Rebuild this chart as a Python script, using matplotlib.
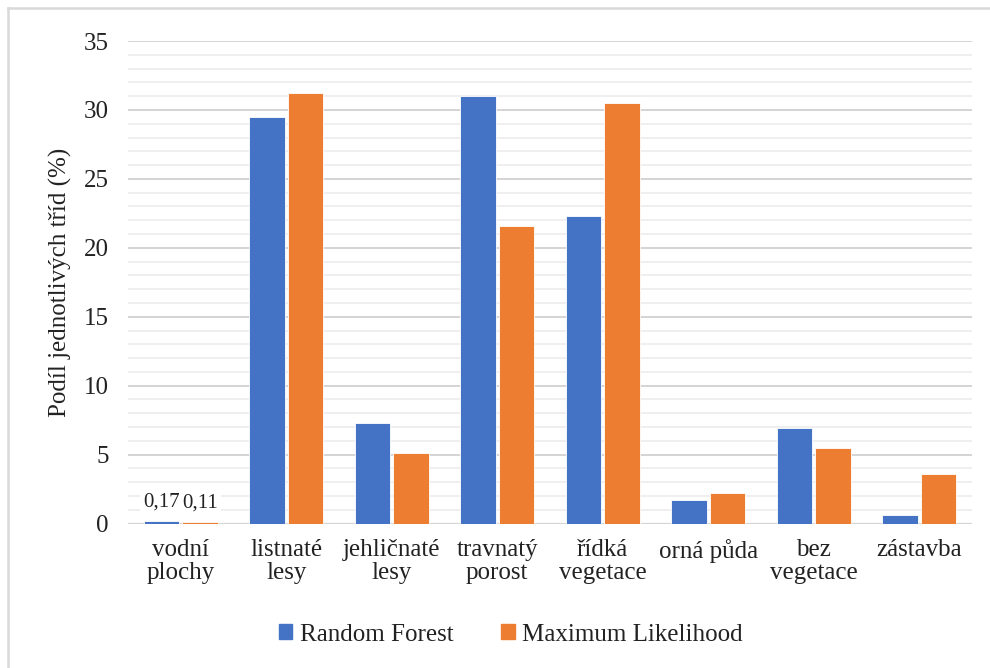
import numpy as np
import matplotlib
matplotlib.use("Agg")
import matplotlib.pyplot as plt
from matplotlib.patches import Rectangle
from matplotlib.lines import Line2D
from matplotlib.ticker import MultipleLocator

plt.rcParams['font.family'] = ['Liberation Serif', 'DejaVu Serif']

# land cover classes and class shares (%) for both classifiers
categories = ['vodní\nplochy', 'listnaté\nlesy', 'jehličnaté\nlesy', 'travnatý\nporost',
              'řídká\nvegetace', 'orná půda', 'bez\nvegetace', 'zástavba']
random_forest = [0.17, 29.5, 7.3, 31.0, 22.3, 1.7, 6.9, 0.6]
max_likelihood = [0.11, 31.2, 5.1, 21.6, 30.5, 2.2, 5.5, 3.6]
series_names = ['Random Forest', 'Maximum Likelihood']
labelled = {0: ('0,17', '0,11')}

blue = '#4472C4'
orange = '#ED7D31'
text_col = '#222222'

fig = plt.figure(figsize=(9.9, 6.68), dpi=100)
ax = fig.add_axes([0.1293, 0.2163, 0.8525, 0.7223])

x = np.arange(len(categories))
w = 0.335
off = w / 2 + 0.014
ax.bar(x - off, random_forest, w, color=blue, edgecolor='white', linewidth=0.6, zorder=3)
ax.bar(x + off, max_likelihood, w, color=orange, edgecolor='white', linewidth=0.6, zorder=3)

# value labels for the tiny water class
for i, (t1, t2) in labelled.items():
    for xx, val, txt in [(x[i] - off, random_forest[i], t1), (x[i] + off, max_likelihood[i], t2)]:
        ax.annotate(txt, (xx, val), xytext=(0, 14), textcoords='offset points',
                    ha='center', va='center', fontsize=15, color=text_col, zorder=4,
                    bbox=dict(boxstyle='square,pad=0.15', fc='white', ec='none'))

ax.set_xlim(-0.5, len(categories) - 0.5)
ax.set_ylim(0, 35)
ax.yaxis.set_major_locator(MultipleLocator(5))
ax.yaxis.set_minor_locator(MultipleLocator(1))
ax.grid(which='major', axis='y', color='#d4d4d4', linewidth=1.4, zorder=0)
ax.grid(which='minor', axis='y', color='#efefef', linewidth=1.4, zorder=0)
for s in ax.spines.values():
    s.set_visible(False)
ax.axhline(0, color='#d4d4d4', linewidth=1.6, zorder=2)

ax.set_xticks(x)
ax.set_xticklabels(categories, fontsize=18, color=text_col, linespacing=1.1)
ax.tick_params(axis='x', length=0, pad=11)
ax.tick_params(axis='y', which='both', length=0, pad=14, labelsize=18, labelcolor=text_col)

ax.set_ylabel('Podíl jednotlivých tříd (%)', fontsize=18, color=text_col, labelpad=8)

handles = [Rectangle((0, 0), 1, 1, color=blue), Rectangle((0, 0), 1, 1, color=orange)]
fig.legend(handles, series_names, loc='center', bbox_to_anchor=(0.516, 0.05), ncol=2,
           frameon=False, fontsize=18, handlelength=0.55, handleheight=0.55,
           handletextpad=0.3, columnspacing=1.9, labelcolor=text_col)

# light frame around the chart area
fig.add_artist(Line2D([8 / 990, 8 / 990], [0, 1 - 8 / 668], color='#d9d9d9', linewidth=1.8,
                      transform=fig.transFigure))
fig.add_artist(Line2D([8 / 990, 1], [1 - 8 / 668, 1 - 8 / 668], color='#d9d9d9', linewidth=1.8,
                      transform=fig.transFigure))

fig.savefig('out.png', dpi=100)
